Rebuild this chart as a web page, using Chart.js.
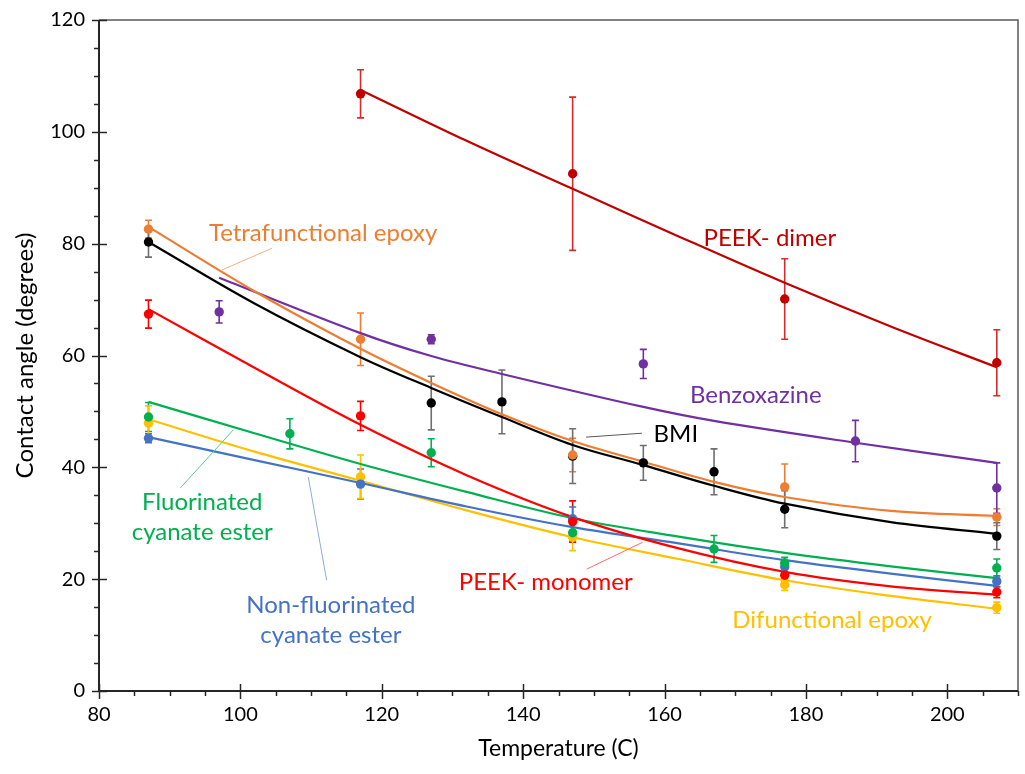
<!DOCTYPE html>
<html><head><meta charset="utf-8">
<script src="https://cdn.jsdelivr.net/npm/chart.js@4"></script>
<style>html,body{margin:0;padding:0;background:#fff}</style>
</head><body>
<canvas id="c" width="1025" height="774"></canvas>
<script>
// ---------- data ----------
const dimerX = [117, 147, 177, 207];
const dimerY = [106.8, 92.5, 70.1, 58.7];
const dimerErr = [4.3, 13.7, 7.2, 5.9];
const dimerFitX = [117, 132, 147, 162, 177, 192, 207];
const dimerFitY = [107.5, 98.4, 89.8, 81.3, 73.0, 65.2, 57.9];

const tetraX = [87, 117, 147, 177, 207];
const tetraY = [82.6, 62.9, 42.2, 36.5, 31.1];
const tetraErr = [1.6, 4.7, 3.0, 4.1, 1.5];
const tetraFitX = [87, 102, 117, 127, 137, 147, 157, 167, 177, 192, 207];
const tetraFitY = [83.0, 71.5, 61.2, 55.1, 49.5, 44.7, 41.0, 37.4, 34.7, 32.2, 31.3];

const bmiX = [87, 127, 137, 147, 157, 167, 177, 207];
const bmiY = [80.3, 51.5, 51.7, 42.0, 40.8, 39.2, 32.5, 27.7];
const bmiErr = [2.7, 4.8, 5.7, 4.9, 3.1, 4.1, 3.3, 2.4];
const bmiFitX = [87, 102, 117, 127, 137, 147, 157, 167, 177, 192, 207];
const bmiFitY = [80.3, 69.3, 59.7, 54.2, 49.0, 44.0, 40.4, 36.7, 33.5, 30.2, 28.1];

const benzX = [97, 127, 157, 187, 207];
const benzY = [67.8, 62.9, 58.5, 44.7, 36.3];
const benzErr = [2.0, 0.8, 2.6, 3.7, 4.5];
const benzFitX = [97, 117, 127, 137, 157, 167, 187, 207];
const benzFitY = [73.9, 64.0, 59.9, 56.7, 50.8, 48.3, 44.4, 40.8];

const monoX = [87, 117, 147, 177, 207];
const monoY = [67.4, 49.2, 30.3, 20.7, 17.7];
const monoErr = [2.5, 2.6, 3.7, 1.2, 1.0];
const monoFitX = [87, 102, 117, 132, 147, 162, 177, 192, 207];
const monoFitY = [68.3, 57.8, 47.6, 38.6, 31.1, 25.5, 21.3, 18.7, 17.2];

const fluoX = [87, 107, 127, 147, 167, 177, 207];
const fluoY = [49.0, 46.0, 42.6, 28.3, 25.4, 22.9, 22.0];
const fluoErr = [2.6, 2.7, 2.5, 1.5, 2.4, 1.0, 1.6];
const fluoFitX = [87, 102, 117, 132, 147, 162, 177, 192, 207];
const fluoFitY = [51.7, 46.1, 40.6, 35.6, 30.9, 27.6, 24.7, 22.3, 20.2];

const nonfX = [87, 117, 147, 177, 207];
const nonfY = [45.2, 37.0, 30.8, 22.2, 19.6];
const nonfErr = [0.8, 2.7, 2.1, 1.0, 1.0];
const nonfFitX = [87, 102, 117, 132, 147, 162, 177, 192, 207];
const nonfFitY = [45.4, 41.3, 37.2, 33.0, 29.3, 26.4, 23.4, 21.0, 18.8];

const difX = [87, 117, 147, 177, 207];
const difY = [47.9, 38.3, 27.5, 19.0, 14.9];
const difErr = [3.1, 3.9, 2.4, 1.0, 1.0];
const difFitX = [87, 102, 117, 132, 147, 162, 177, 192, 207];
const difFitY = [48.6, 42.8, 37.6, 32.3, 27.5, 23.6, 19.8, 17.0, 14.7];

const xMin = 80, xMax = 210, yMin = 0, yMax = 120;
const xTitle = 'Temperature (C)';
const yTitle = 'Contact angle (degrees)';

// ---------- styling table ----------
const series = [
  {x: dimerX, y: dimerY, e: dimerErr, fx: dimerFitX, fy: dimerFitY, color: '#C00000', ec: '#D42B2B'},
  {x: tetraX, y: tetraY, e: tetraErr, fx: tetraFitX, fy: tetraFitY, color: '#ED7D31', ec: '#ED7D31'},
  {x: bmiX, y: bmiY, e: bmiErr, fx: bmiFitX, fy: bmiFitY, color: '#000000', ec: '#6F6F6F'},
  {x: benzX, y: benzY, e: benzErr, fx: benzFitX, fy: benzFitY, color: '#7030A0', ec: '#7030A0'},
  {x: monoX, y: monoY, e: monoErr, fx: monoFitX, fy: monoFitY, color: '#FF0000', ec: '#FF0000'},
  {x: fluoX, y: fluoY, e: fluoErr, fx: fluoFitX, fy: fluoFitY, color: '#00B050', ec: '#00B050'},
  {x: nonfX, y: nonfY, e: nonfErr, fx: nonfFitX, fy: nonfFitY, color: '#4472C4', ec: '#4472C4'},
  {x: difX, y: difY, e: difErr, fx: difFitX, fy: difFitY, color: '#FFC000', ec: '#FFC000'}
];

// annotation labels (positions in data units) and leader lines
const labels = [
  {t: ['Tetrafunctional epoxy'], x: 111.7, y: 81.9, c: '#ED7D31'},
  {t: ['PEEK- dimer'], x: 174.9, y: 81.0, c: '#C00000'},
  {t: ['Benzoxazine'], x: 172.9, y: 52.8, c: '#7030A0'},
  {t: ['BMI'], x: 161.6, y: 46.0, c: '#000000'},
  {t: ['Fluorinated', 'cyanate ester'], x: 94.6, y: 33.8, c: '#00B050'},
  {t: ['Non-fluorinated', 'cyanate ester'], x: 112.8, y: 15.4, c: '#4472C4'},
  {t: ['PEEK- monomer'], x: 143.2, y: 19.5, c: '#FF0000'},
  {t: ['Difunctional epoxy'], x: 183.7, y: 12.7, c: '#FFC000'}
];
const leaders = [
  {x1: 104.5, y1: 79.2, x2: 97.4, y2: 75.3, c: '#F4B183'},
  {x1: 148.9, y1: 45.4, x2: 156.8, y2: 46.1, c: '#595959'},
  {x1: 91.5, y1: 36.3, x2: 99.0, y2: 46.7, c: '#5BCB8A'},
  {x1: 112.2, y1: 19.8, x2: 109.6, y2: 38.3, c: '#8FAADC'},
  {x1: 149.0, y1: 21.8, x2: 156.9, y2: 26.6, c: '#FF6B6B'}
];

const FONT = 'Lato, "Open Sans", sans-serif';

const toPts = (xs, ys) => xs.map((v, i) => ({x: v, y: ys[i]}));

const datasets = [];
series.forEach((s, i) => {
  datasets.push({
    type: 'scatter', data: toPts(s.x, s.y), showLine: false,
    pointRadius: 4.7, pointBackgroundColor: s.color, pointBorderWidth: 0,
    order: 1
  });
  datasets.push({
    type: 'line', data: toPts(s.fx, s.fy), showLine: true, fill: false,
    borderColor: s.color, borderWidth: 2.2, pointRadius: 0,
    tension: 0.35, order: 2
  });
});

const errorBars = {
  id: 'errorBars',
  beforeDatasetsDraw(chart) {
    const {ctx, scales: {x, y}} = chart;
    ctx.save();
    series.forEach(s => {
      ctx.strokeStyle = s.ec; ctx.lineWidth = 1.6;
      s.x.forEach((xv, i) => {
        const px = x.getPixelForValue(xv);
        const top = y.getPixelForValue(s.y[i] + s.e[i]);
        const bot = y.getPixelForValue(s.y[i] - s.e[i]);
        ctx.beginPath();
        ctx.moveTo(px, top); ctx.lineTo(px, bot);
        ctx.moveTo(px - 3.5, top); ctx.lineTo(px + 3.5, top);
        ctx.moveTo(px - 3.5, bot); ctx.lineTo(px + 3.5, bot);
        ctx.stroke();
      });
    });
    ctx.restore();
  }
};

const frame = {
  id: 'frame',
  afterDraw(chart) {
    const {ctx, chartArea: a, scales: {x, y}} = chart;
    ctx.save();
    ctx.strokeStyle = '#595959'; ctx.lineWidth = 1.5;
    ctx.beginPath();
    ctx.moveTo(a.left, a.top); ctx.lineTo(a.right, a.top); ctx.lineTo(a.right, a.bottom);
    ctx.stroke();
    ctx.strokeStyle = '#262626'; ctx.lineWidth = 2;
    ctx.beginPath();
    ctx.moveTo(a.left, a.top); ctx.lineTo(a.left, a.bottom); ctx.lineTo(a.right, a.bottom);
    ctx.stroke();
    ctx.lineWidth = 1.5;
    x.ticks.forEach(t => {
      const px = Math.round(x.getPixelForValue(t.value)) + 0.5;
      const major = t.value % 20 === 0;
      ctx.beginPath();
      ctx.moveTo(px, major ? a.bottom - 7 : a.bottom);
      ctx.lineTo(px, a.bottom + (major ? 8 : 5));
      ctx.stroke();
    });
    y.ticks.forEach(t => {
      const py = Math.round(y.getPixelForValue(t.value)) + 0.5;
      const major = t.value % 20 === 0;
      ctx.beginPath();
      ctx.moveTo(major ? a.left + 8 : a.left, py);
      ctx.lineTo(a.left - (major ? 7 : 5), py);
      ctx.stroke();
    });
    ctx.restore();
  }
};

const annotations = {
  id: 'annotations',
  afterDatasetsDraw(chart) {
    const {ctx, scales: {x, y}} = chart;
    ctx.save();
    leaders.forEach(l => {
      ctx.strokeStyle = l.c; ctx.lineWidth = 1;
      ctx.beginPath();
      ctx.moveTo(x.getPixelForValue(l.x1), y.getPixelForValue(l.y1));
      ctx.lineTo(x.getPixelForValue(l.x2), y.getPixelForValue(l.y2));
      ctx.stroke();
    });
    ctx.font = '24px ' + FONT;
    ctx.textAlign = 'center'; ctx.textBaseline = 'middle';
    labels.forEach(l => {
      ctx.fillStyle = l.c;
      const px = x.getPixelForValue(l.x), py = y.getPixelForValue(l.y);
      l.t.forEach((line, k) => ctx.fillText(line, px, py + k * 30));
    });
    ctx.restore();
  }
};

const noOverflow = s => { s.paddingTop = 0; s.paddingBottom = 0; s.paddingLeft = 0; s.paddingRight = 0; };

new Chart(document.getElementById('c'), {
  data: {datasets},
  options: {
    responsive: false, animation: false,
    layout: {padding: {left: 0, right: 7, top: 20, bottom: 0}},
    plugins: {legend: {display: false}, tooltip: {enabled: false}},
    scales: {
      x: {
        type: 'linear', min: xMin, max: xMax,
        grid: {display: false, drawTicks: false},
        border: {display: false},
        ticks: {stepSize: 5, autoSkip: false, maxRotation: 0, padding: 12, color: '#000',
          font: {family: FONT, size: 20},
          callback: v => (v % 20 === 0 ? String(v) : '')},
        title: {display: true, text: xTitle, color: '#000', font: {family: FONT, size: 23}, padding: {top: 0, bottom: 12}},
        afterFit: s => { s.height = 83; noOverflow(s); }
      },
      y: {
        type: 'linear', min: yMin, max: yMax,
        grid: {display: false, drawTicks: false},
        border: {display: false},
        ticks: {stepSize: 5, autoSkip: false, padding: 14, color: '#000',
          font: {family: FONT, size: 20},
          callback: v => (v % 20 === 0 ? String(v) : '')},
        title: {display: true, text: yTitle, color: '#000', font: {family: FONT, size: 24}, padding: {top: 11, bottom: 0}},
        afterFit: s => { s.width = 99; noOverflow(s); }
      }
    }
  },
  plugins: [errorBars, annotations, frame]
});
</script>
</body></html>
